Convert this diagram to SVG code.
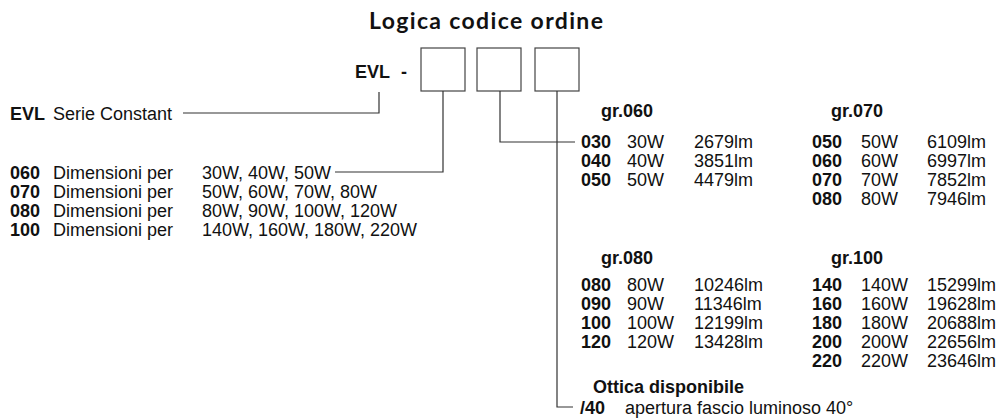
<svg xmlns="http://www.w3.org/2000/svg" width="1000" height="418" viewBox="0 0 1000 418">
<style>
text{font-family:"Liberation Sans",Arial,sans-serif;font-size:18px;fill:#111}
.b{font-weight:bold}
.title{font-family:Lato,"Open Sans","Liberation Sans",sans-serif;font-weight:bold;font-size:23px}
.box{fill:#fff;stroke:#444;stroke-width:1.2}
.ln{fill:none;stroke:#333;stroke-width:1.2}
</style>
<rect width="1000" height="418" fill="#fff"/>
<g id="title"><text class="title" x="369" y="29" textLength="234">Logica codice ordine</text></g>
<g id="code">
<text class="b" x="355" y="78">EVL</text>
<text class="b" x="401" y="78">-</text>
<rect id="box1" class="box" x="421" y="48" width="44" height="43"/>
<rect id="box2" class="box" x="477" y="48" width="44" height="43"/>
<rect id="box3" class="box" x="535" y="48" width="44" height="43"/>
</g>
<g id="connectors">
<polyline class="ln" points="379,92 379,113 183,113"/>
<polyline class="ln" points="443,91 443,172 335,172"/>
<polyline class="ln" points="500,91 500,142 575,142"/>
<polyline class="ln" points="557,91 557,407 573,407"/>
</g>
<g id="serie">
<text class="b" x="10" y="120">EVL</text>
<text x="53" y="120">Serie Constant</text>
</g>
<g id="dimensioni">
<text class="b" x="10" y="179">060</text><text x="53" y="179">Dimensioni per</text><text x="202" y="179">30W, 40W, 50W</text>
<text class="b" x="10" y="198">070</text><text x="53" y="198">Dimensioni per</text><text x="202" y="198">50W, 60W, 70W, 80W</text>
<text class="b" x="10" y="217">080</text><text x="53" y="217">Dimensioni per</text><text x="202" y="217">80W, 90W, 100W, 120W</text>
<text class="b" x="10" y="236">100</text><text x="53" y="236">Dimensioni per</text><text x="202" y="236">140W, 160W, 180W, 220W</text>
</g>
<g id="gr060">
<text class="b" x="601" y="117">gr.060</text>
<text class="b" x="581" y="148">030</text><text x="627" y="148">30W</text><text x="694" y="148">2679lm</text>
<text class="b" x="581" y="167">040</text><text x="627" y="167">40W</text><text x="694" y="167">3851lm</text>
<text class="b" x="581" y="186">050</text><text x="627" y="186">50W</text><text x="694" y="186">4479lm</text>
</g>
<g id="gr070">
<text class="b" x="831" y="117">gr.070</text>
<text class="b" x="812" y="148">050</text><text x="861" y="148">50W</text><text x="927" y="148">6109lm</text>
<text class="b" x="812" y="167">060</text><text x="861" y="167">60W</text><text x="927" y="167">6997lm</text>
<text class="b" x="812" y="186">070</text><text x="861" y="186">70W</text><text x="927" y="186">7852lm</text>
<text class="b" x="812" y="205">080</text><text x="861" y="205">80W</text><text x="927" y="205">7946lm</text>
</g>
<g id="gr080">
<text class="b" x="601" y="264">gr.080</text>
<text class="b" x="581" y="291">080</text><text x="627" y="291">80W</text><text x="694" y="291">10246lm</text>
<text class="b" x="581" y="310">090</text><text x="627" y="310">90W</text><text x="694" y="310">11346lm</text>
<text class="b" x="581" y="329">100</text><text x="627" y="329">100W</text><text x="694" y="329">12199lm</text>
<text class="b" x="581" y="348">120</text><text x="627" y="348">120W</text><text x="694" y="348">13428lm</text>
</g>
<g id="gr100">
<text class="b" x="831" y="264">gr.100</text>
<text class="b" x="812" y="291">140</text><text x="861" y="291">140W</text><text x="927" y="291">15299lm</text>
<text class="b" x="812" y="310">160</text><text x="861" y="310">160W</text><text x="927" y="310">19628lm</text>
<text class="b" x="812" y="329">180</text><text x="861" y="329">180W</text><text x="927" y="329">20688lm</text>
<text class="b" x="812" y="348">200</text><text x="861" y="348">200W</text><text x="927" y="348">22656lm</text>
<text class="b" x="812" y="367">220</text><text x="861" y="367">220W</text><text x="927" y="367">23646lm</text>
</g>
<g id="ottica">
<text class="b" x="593" y="393">Ottica disponibile</text>
<text class="b" x="580" y="414">/40</text>
<text x="625" y="414">apertura fascio luminoso 40°</text>
</g>
</svg>
